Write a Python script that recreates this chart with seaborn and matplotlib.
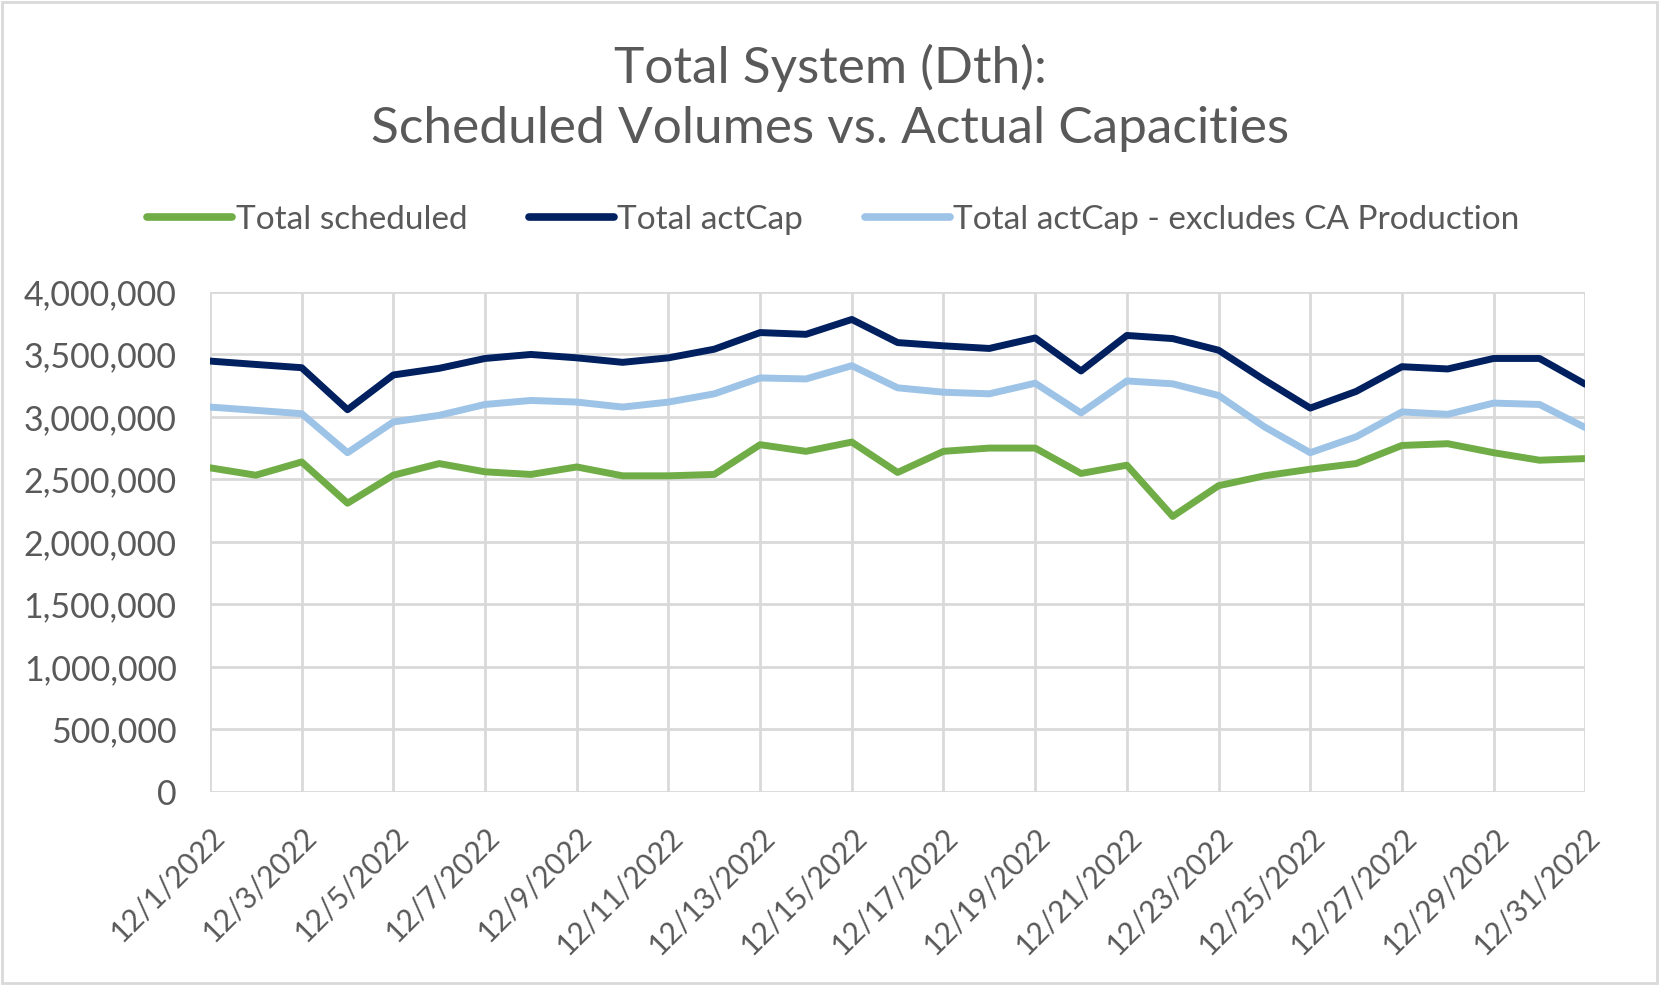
import numpy as np
import pandas as pd
import matplotlib
matplotlib.use("Agg")
import matplotlib.pyplot as plt
import seaborn as sns
from matplotlib.patches import Rectangle
from matplotlib.ticker import FuncFormatter, MultipleLocator

# ---- data ----
days = list(range(1, 32))
date_labels = [f"12/{d}/2022" for d in days]

total_scheduled = [2593, 2534, 2640, 2310, 2534, 2627, 2561, 2540, 2600, 2529,
                   2529, 2540, 2778, 2725, 2799, 2556, 2725, 2751, 2751, 2548,
                   2614, 2204, 2450, 2529, 2582, 2627, 2772, 2786, 2714, 2654,
                   2667]
total_actcap = [3447, 3420, 3394, 3058, 3336, 3389, 3468, 3500, 3473, 3437,
                3473, 3542, 3675, 3661, 3780, 3595, 3569, 3548, 3632, 3368,
                3652, 3627, 3534, 3296, 3071, 3204, 3402, 3384, 3468, 3468,
                3262]
total_actcap_excl = [3079, 3053, 3026, 2714, 2960, 3013, 3100, 3132, 3119, 3079,
                     3119, 3185, 3312, 3304, 3410, 3233, 3198, 3185, 3270, 3032,
                     3288, 3265, 3172, 2921, 2714, 2841, 3040, 3021, 3111, 3100,
                     2915]
series_names = ["Total scheduled", "Total actCap",
                "Total actCap - excludes CA Production"]
colors = ["#70AD47", "#002060", "#9DC3E6"]

title = "Total System (Dth):\nScheduled Volumes vs. Actual Capacities"

# ---- long-form table ----
df = pd.DataFrame({
    "day": days * 3,
    "value": [v * 1000 for v in total_scheduled + total_actcap + total_actcap_excl],
    "series": [series_names[0]] * 31 + [series_names[1]] * 31 + [series_names[2]] * 31,
})

sns.set_theme(style="white")
plt.rcParams["font.family"] = ["Lato", "DejaVu Sans"]
txt = "#595959"
grid = "#D9D9D9"

fig = plt.figure(figsize=(16.6, 9.85), dpi=100)
ax = fig.add_axes([0.1265, 0.196, 0.955 - 0.1265, 0.7036 - 0.196])

sns.lineplot(data=df, x="day", y="value", hue="series", hue_order=series_names,
             palette=colors, linewidth=5, ax=ax, legend=True)

ax.set_xlim(1, 31)
ax.set_ylim(0, 4_000_000)
ax.yaxis.set_major_locator(MultipleLocator(500_000))
ax.yaxis.set_major_formatter(FuncFormatter(lambda v, p: f"{int(v):,}"))
ax.set_xticks(days[::2])
ax.set_xticklabels(date_labels[::2], rotation=45, ha="right",
                   rotation_mode="anchor", fontsize=21.5, color=txt)
for lab in ax.get_yticklabels():
    lab.set_fontsize(24.5)
    lab.set_color(txt)
ax.tick_params(axis="x", length=9, width=2, color=grid, pad=13)
ax.tick_params(axis="y", length=0, pad=24)
ax.grid(True, color=grid, linewidth=2)
ax.set_axisbelow(True)
for s in ax.spines.values():
    s.set_visible(False)
ax.set_xlabel("")
ax.set_ylabel("")

leg = ax.legend(loc="center", bbox_to_anchor=(0.502, 0.777), bbox_transform=fig.transFigure,
                ncol=3, frameon=False, fontsize=24, handlelength=2.55,
                handletextpad=0.1, columnspacing=1.85, labelcolor=txt)
for h in leg.get_lines():
    h.set_linewidth(5.5)

fig.text(0.5, 0.901, title, ha="center", va="center", fontsize=37,
         color=txt, linespacing=1.38)

fig.patches.append(Rectangle((0.001, 0.002), 0.997, 0.996, transform=fig.transFigure,
                             fill=False, edgecolor=grid, linewidth=2))

fig.savefig("out.png", dpi=100)
